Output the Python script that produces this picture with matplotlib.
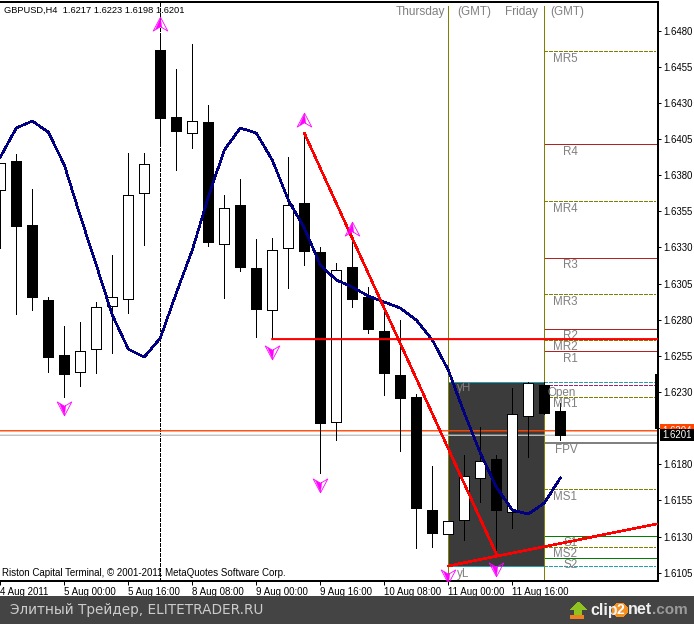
# GBPUSD H4 terminal screenshot rebuilt with matplotlib

import matplotlib
matplotlib.use("Agg")
import matplotlib.pyplot as plt
from matplotlib.patches import Rectangle, Polygon, Circle
from matplotlib.path import Path

W, H = 694, 624
FONT = "Liberation Sans"

# candles, one entry per bar
OPEN = [1.63697, 1.63898, 1.63455, 1.62936, 1.62556, 1.62438, 1.62597, 1.62895, 1.62943,
        1.63676, 1.64665, 1.64202, 1.64091, 1.64167, 1.63323, 1.63593, 1.63158, 1.62867,
        1.63296, 1.63607, 1.63268, 1.62092, 1.63164, 1.62957, 1.62722, 1.62417, 1.62265,
        1.61484, 1.61318, 1.61415, 1.61705, 1.61837, 1.61470, 1.62134, 1.62348, 1.62169]
HIGH = [1.63884, 1.63946, 1.63704, 1.62957, 1.62756, 1.62784, 1.62922, 1.63247, 1.63953,
        1.63953, 1.64755, 1.64534, 1.64707, 1.64285, 1.63662, 1.63773, 1.63358, 1.63365,
        1.63925, 1.64091, 1.63303, 1.63192, 1.63351, 1.63026, 1.62867, 1.62798, 1.62286,
        1.61788, 1.61408, 1.61864, 1.62058, 1.61864, 1.62328, 1.62369, 1.62369, 1.62224]
LOW = [1.63296, 1.62839, 1.62867, 1.62438, 1.62265, 1.62341, 1.62431, 1.62570, 1.62846,
       1.63317, 1.64029, 1.63835, 1.63987, 1.63310, 1.62950, 1.63137, 1.62680, 1.62666,
       1.63019, 1.63178, 1.61740, 1.61968, 1.62888, 1.62708, 1.62279, 1.61892, 1.61221,
       1.61228, 1.61318, 1.61276, 1.61539, 1.61180, 1.61359, 1.61850, 1.62148, 1.61968]
CLOSE = [1.63884, 1.63441, 1.62950, 1.62535, 1.62417, 1.62583, 1.62888, 1.62957, 1.63662,
         1.63877, 1.64188, 1.64098, 1.64174, 1.63330, 1.63572, 1.63158, 1.62867, 1.63282,
         1.63593, 1.63268, 1.62079, 1.63144, 1.62936, 1.62729, 1.62424, 1.62252, 1.61491,
         1.61318, 1.61408, 1.61719, 1.61823, 1.61477, 1.62148, 1.62362, 1.62148, 1.61996]

# moving average
MA = [1.63925, 1.64126, 1.64174, 1.64098, 1.63870, 1.63517, 1.63178, 1.62832, 1.62597,
      1.62542, 1.62673, 1.62985, 1.63282, 1.63649, 1.63974, 1.64126, 1.64091, 1.63904,
      1.63628, 1.63434, 1.63178, 1.63075, 1.63026, 1.62964, 1.62922, 1.62881, 1.62798,
      1.62660, 1.62452, 1.62155, 1.61878, 1.61643, 1.61484, 1.61456, 1.61532, 1.61705]

# fractal arrows
UP_BARS = [10, 19, 22]
UP_PRICES = [1.64842, 1.64178, 1.63427]
DOWN_BARS = [4, 17, 20, 28, 31]
DOWN_PRICES = [1.62189, 1.62580, 1.61660, 1.61027, 1.61079]

# pivot levels, right of the Friday separator
DASHED_LEVELS = [1.64656, 1.63619, 1.62976, 1.62657, 1.62263, 1.61627, 1.61226]
RED_LEVELS = [1.64013, 1.63225, 1.62734, 1.62581]
GREEN_LEVELS = [1.61302, 1.61150]
Y_HIGH = 1.62371
Y_LOW = 1.61095
DAY_OPEN = 1.62346
FPV = 1.61949
ASK = 1.62032
BID = 1.62001
ASK_TAG = "1.6204"
BID_TAG = "1.6201"

# axis; the 1.6205 label sits under the price tags in the terminal
PRICE_TICKS = [1.6480, 1.6455, 1.6430, 1.6405, 1.6380, 1.6355, 1.6330, 1.6305, 1.6280,
               1.6255, 1.6230, 1.6205, 1.6180, 1.6155, 1.6130, 1.6105]
PRICE_LABELS = ["1.6480", "1.6455", "1.6430", "1.6405", "1.6380", "1.6355", "1.6330", "1.6305", "1.6280",
                "1.6255", "1.6230", "", "1.6180", "1.6155", "1.6130", "1.6105"]
TIME_BARS = [0, 4, 8, 12, 16, 20, 24, 28, 32]
TIME_LABELS = ["4 Aug 2011", "5 Aug 00:00", "5 Aug 16:00", "8 Aug 08:00", "9 Aug 00:00",
               "9 Aug 16:00", "10 Aug 08:00", "11 Aug 00:00", "11 Aug 16:00"]

# trend lines
TREND_A_BARS = [19, 31]
TREND_A_PRICES = [1.64091, 1.61180]
TREND_B_BARS = [28, 41]
TREND_B_PRICES = [1.61097, 1.61387]
HLINE_BAR = 17
HLINE_PRICE = 1.62666

# (text, x px, y px) of the grey captions
LEVEL_LABELS = [("MR5", 552.5, 58.5), ("R4", 563, 152), ("MR4", 552.5, 209), ("R3", 563, 265.5),
                ("MR3", 552.5, 302), ("R2", 563, 336), ("MR2", 552.5, 347), ("R1", 563, 358.5),
                ("Open", 548, 393), ("MR1", 552.5, 404), ("FPV", 555, 450), ("MS1", 553.5, 496.5),
                ("S1", 563, 543), ("MS2", 553.5, 554), ("S2", 563, 565.5),
                ("yH", 457, 388.5), ("yL", 457, 574)]

OLIVE = "#808000"
DARK_RED = "#b22222"
GREEN = "#008000"
TEAL = "#20a0b0"
DASH = (0, (3, 2))
PX = 0.72  # one pixel in points


def fx(x):
    return x / W


def fy(y):
    return 1 - y / H


def bar_x(px):
    return (px - 0.3) / 16


def arrow(up, filled):
    # tip at the top, notch in the base; flipped for the down arrows
    s = 1 if up else -1
    if filled:
        pts = [(0, s), (-0.75, -0.75 * s), (0, -0.3 * s), (0.2, -0.5 * s), (0, s)]
    else:
        pts = [(0, s), (-1, -s * 0.9), (0, -0.3 * s), (1, -s * 0.9), (0, s)]
    return Path(pts, closed=True)


def txt(ax, x, y, s, **kw):
    kw.setdefault("fontfamily", FONT)
    kw.setdefault("va", "center")
    kw.setdefault("clip_on", False)
    return ax.text(fx(x), fy(y), s, transform=ax.figure.transFigure, **kw)


def main():
    plt.rcParams["lines.antialiased"] = False
    plt.rcParams["patch.antialiased"] = False
    plt.rcParams["font.family"] = FONT

    fig = plt.figure(figsize=(W / 100, H / 100), dpi=100, facecolor="white")
    ax = fig.add_axes([0, fy(581), fx(657.5), fy(1.5) - fy(581)])
    ax.set_facecolor("white")
    ax.set_xlim(bar_x(0), bar_x(657.5))
    ax.set_ylim(1.60993, 1.65001)

    # frame and axes
    ax.spines["left"].set_visible(False)
    for side in ("top", "right", "bottom"):
        ax.spines[side].set_linewidth(1.1)
    ax.yaxis.tick_right()
    ax.set_yticks(PRICE_TICKS)
    ax.set_yticklabels(PRICE_LABELS, fontsize=6.9)
    ax.tick_params(axis="y", length=2.5, width=PX, pad=2)
    ax.set_xticks(TIME_BARS)
    ax.set_xticklabels(TIME_LABELS, fontsize=7, ha="left")
    ax.tick_params(axis="x", length=3, width=PX, pad=1.5)

    # previous day box and separators
    ax.add_patch(Rectangle((28, Y_LOW), 6, Y_HIGH - Y_LOW, facecolor="#3b3b3b", edgecolor="none", zorder=1))
    ax.hlines([Y_HIGH, Y_LOW], 28, 34, color=TEAL, lw=PX, zorder=1.5)
    ax.vlines([28, 34], 1.60993, 1.6497, color=OLIVE, lw=PX, zorder=1.6)
    ax.axvline(10, color="black", lw=PX, ls=DASH, zorder=1.2)

    # pivots
    right = bar_x(655)
    ax.hlines(DASHED_LEVELS, 34, right, color=OLIVE, lw=PX, ls=DASH, zorder=1.5)
    ax.hlines(RED_LEVELS, 34, bar_x(657), color=DARK_RED, lw=PX, zorder=1.5)
    ax.hlines(GREEN_LEVELS, 34, bar_x(657), color=GREEN, lw=PX, zorder=1.5)
    ax.hlines([Y_HIGH, Y_LOW], 34, right, color=TEAL, lw=PX, ls=DASH, zorder=1.5)
    ax.hlines(DAY_OPEN, 34, right, color="#a0207f", lw=PX, ls=DASH, zorder=1.5)
    ax.hlines(FPV, 34, bar_x(657), color="#808080", lw=1.2, zorder=1.5)
    ax.axhline(ASK, color="#ff4500", lw=1.0, antialiased=True, snap=False, zorder=1.7)
    ax.axhline(BID, color="#c0c0c0", lw=1.0, antialiased=True, snap=False, zorder=1.7)

    # candles
    bars = list(range(len(OPEN)))
    ax.vlines(bars, LOW, HIGH, color="black", lw=PX, zorder=2)
    for i, o, c in zip(bars, OPEN, CLOSE):
        if c >= o:
            ax.bar(i, c - o, bottom=o, width=0.6, facecolor="white", edgecolor="black", linewidth=PX, zorder=2.2)
        else:
            ax.bar(i, o - c, bottom=c, width=0.68, facecolor="black", edgecolor="black", linewidth=0, zorder=2.2)
    ax.vlines(bar_x(656), 1.62044, 1.62424, color="black", lw=1.3, zorder=2.2)

    # captions that sit under the red lines
    for s, x, y in LEVEL_LABELS:
        txt(ax, x, y, s, fontsize=8.4, color="#808080", zorder=3)

    # MA and trend lines
    ax.plot(bars, MA, color="#000080", lw=1.15, zorder=4)
    ax.plot(TREND_A_BARS, TREND_A_PRICES, color="red", lw=1.1, zorder=5)
    ax.plot(TREND_B_BARS, TREND_B_PRICES, color="red", lw=1.15, zorder=5)
    ax.plot([HLINE_BAR, bar_x(657)], [HLINE_PRICE, HLINE_PRICE], color="red", lw=1.5, antialiased=True,
            snap=False, zorder=5)

    # arrows
    for xs, ys, up in ((UP_BARS, UP_PRICES, True), (DOWN_BARS, DOWN_PRICES, False)):
        ax.plot(xs, ys, ls="none", marker=arrow(up, False), ms=10.5, mfc="none", mec="#ff00ff", mew=0.6, zorder=6)
        ax.plot(xs, ys, ls="none", marker=arrow(up, True), ms=9.5, mfc="#ff00ff", mec="#ff00ff", mew=0.3, zorder=6)

    # price tags over the axis labels
    tf = ax.get_yaxis_transform()
    tag_x = 660 / 657.5
    tag_w = 34 / 657.5
    ax.add_patch(Rectangle((tag_x, ASK - 0.00045), tag_w, 0.0009, transform=tf, facecolor="#ff4500",
                           edgecolor="none", clip_on=False, zorder=8))
    ax.text(tag_x + 0.004, ASK, ASK_TAG, transform=tf, color="white", fontsize=6.9, va="center",
            clip_on=False, zorder=8.1)
    ax.add_patch(Rectangle((tag_x, BID - 0.0004), tag_w, 0.0008, transform=tf, facecolor="black",
                           edgecolor="none", clip_on=False, zorder=8.2))
    ax.text(tag_x + 0.004, BID, BID_TAG, transform=tf, color="white", fontsize=6.9, va="center",
            clip_on=False, zorder=8.3)

    # chart texts
    txt(ax, 4, 10, "GBPUSD,H4  1.6217 1.6223 1.6198 1.6201", fontsize=6.7, color="black", zorder=7)
    txt(ax, 445, 15, "Thursday", fontsize=8.6, color="#808080", ha="right", va="baseline", zorder=7)
    txt(ax, 457, 15, "(GMT)", fontsize=8.4, color="#808080", va="baseline", zorder=7)
    txt(ax, 505.5, 15, "Friday", fontsize=8.6, color="#808080", va="baseline", zorder=7)
    txt(ax, 550.5, 15, "(GMT)", fontsize=8.4, color="#808080", va="baseline", zorder=7)
    txt(ax, 2.5, 573.5, "Riston Capital Terminal, © 2001-2011 MetaQuotes Software Corp.", fontsize=7,
        color="black", zorder=7)

    # watermark band
    tr = fig.transFigure
    fig.add_artist(Rectangle((0, 0), 1, fy(596), transform=tr, facecolor="#444444", edgecolor="none"))
    fig.text(fx(10), fy(610), "Элитный Трейдер, ELITETRADER.RU", color="#cccccc", fontsize=9.8,
             fontfamily="DejaVu Sans", va="center")

    # clip2net logo
    fig.add_artist(Polygon([(fx(570), fy(610)), (fx(578), fy(602)), (fx(587), fy(610)), (fx(582), fy(610)),
                            (fx(582), fy(615)), (fx(574), fy(615)), (fx(574), fy(610))], transform=tr,
                           facecolor="#8fc31f", edgecolor="none"))
    fig.add_artist(Rectangle((fx(570), fy(619)), 14 / W, 4 / H, transform=tr, facecolor="#f08020", edgecolor="none"))
    fig.text(fx(590), fy(610), "clip", color="#f0f0f0", fontsize=11.5, fontweight="bold", va="center")
    fig.add_artist(Circle((fx(620), fy(610)), 7.5 / W, transform=tr, facecolor="#f39020", edgecolor="none"))
    fig.text(fx(620), fy(610), "2", color="white", fontsize=10, fontweight="bold", va="center", ha="center")
    fig.text(fx(628), fy(610), "net", color="#f0f0f0", fontsize=11.5, fontweight="bold", va="center")
    fig.text(fx(652), fy(610), ".com", color="#9a9a9a", fontsize=11, fontweight="bold", va="center")

    fig.savefig("out.png", dpi=100, facecolor="white")


if __name__ == "__main__":
    main()
